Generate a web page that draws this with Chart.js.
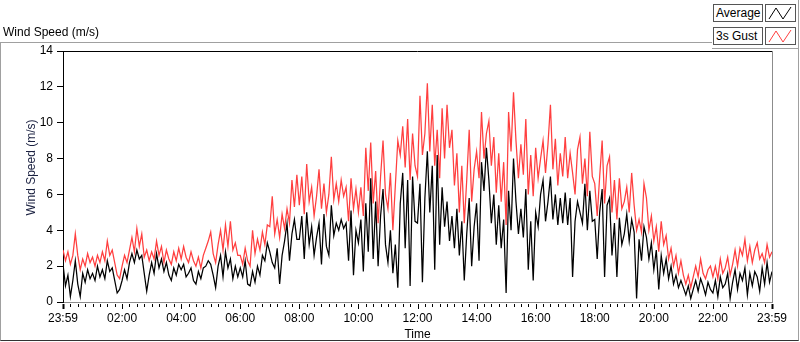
<!DOCTYPE html>
<html>
<head>
<meta charset="utf-8">
<script src="https://cdn.jsdelivr.net/npm/chart.js@4.4.0/dist/chart.umd.min.js"></script>
<style>
    html, body { margin: 0; padding: 0; background: #fff; }
    body { width: 800px; height: 342px; position: relative; overflow: hidden;
           font-family: "Liberation Sans", Arial, sans-serif; font-size: 12px; color: #000; }
    #gcWrap { position: absolute; left: 0; top: 0; width: 800px; height: 342px; }
    #frame { position: absolute; left: 0; top: 42px; width: 799px; height: 299px; box-sizing: border-box;
             border: 1px solid #a0a0a0; border-bottom-color: #333; pointer-events: none; }
    #plotTitle { position: absolute; left: 3px; top: 25px; line-height: 14px; white-space: nowrap; }
    #legendPanel { position: absolute; left: 712px; top: 0; width: 87px; height: 49px; box-sizing: border-box;
                   background: #fff; border-right: 1px solid #a0a0a0; border-bottom: 1px solid #a0a0a0; }
    .lgName { position: absolute; left: 1px; width: 50px; height: 18px; box-sizing: border-box;
              border: 1px solid #555; background: #fff; padding-left: 2px; line-height: 16px; white-space: nowrap; }
    .lgIcon { position: absolute; left: 53px; width: 31px; height: 18px; box-sizing: border-box;
              border: 1px solid #555; background: #fff; }
    .lgIcon svg { display: block; }
</style>
</head>
<body>
<div id="gcWrap"><canvas id="windChart" width="800" height="342"></canvas></div>
<div id="frame"></div>
<div id="plotTitle">Wind Speed (m/s)</div>
<div id="legendPanel">
    <div class="lgName" style="top:4px">Average</div>
    <div class="lgIcon" style="top:4px"><svg width="29" height="16"><polyline points="3,14 10,3 17,14 25,2" fill="none" stroke="#000" stroke-width="1"/></svg></div>
    <div class="lgName" style="top:27px">3s Gust</div>
    <div class="lgIcon" style="top:27px"><svg width="29" height="16"><polyline points="3,14 10,3 17,14 25,2" fill="none" stroke="#ff3f3f" stroke-width="1"/></svg></div>
</div>
<script>
// --- Data: one sample every 5 minutes, 23:59 -> 23:59 ---
const sampleStep = 5;
const avgSpeed = [
    2.1, 0.9, 1.5, 0.3, 1.2, 2.3, 1.0, 0.3, 1.6, 1.1, 1.8, 1.3,
    1.6, 1.2, 2.0, 1.4, 1.8, 1.3, 2.3, 1.7, 1.9, 1.2, 0.5, 0.7,
    1.2, 1.8, 1.3, 2.2, 2.7, 2.2, 2.9, 2.4, 2.6, 1.6, 0.6, 1.5,
    2.2, 1.6, 2.7, 1.9, 2.4, 1.7, 2.2, 1.5, 1.2, 1.9, 1.5, 2.1,
    1.8, 2.1, 1.4, 1.6, 1.9, 1.2, 1.0, 1.7, 1.3, 1.9, 2.0, 2.3,
    2.1, 1.5, 0.8, 2.0, 2.6, 1.4, 2.8, 1.9, 2.4, 1.3, 2.0, 1.4,
    1.9, 1.4, 2.3, 1.0, 0.9, 1.7, 1.1, 2.0, 1.5, 2.6, 2.3, 3.3,
    2.8, 2.2, 1.9, 3.0, 1.0, 2.6, 3.4, 4.4, 2.3, 3.8, 4.6, 3.5,
    3.5, 4.8, 2.4, 5.0, 3.2, 4.2, 2.6, 3.6, 4.4, 2.1, 4.9, 3.1,
    2.6, 5.4, 3.7, 4.4, 4.0, 4.6, 4.1, 4.4, 2.3, 5.1, 1.5, 4.0,
    3.3, 4.6, 1.7, 5.5, 2.8, 6.9, 2.4, 5.6, 2.0, 4.8, 6.3, 3.2,
    2.2, 4.0, 1.6, 3.2, 0.8, 5.5, 7.2, 3.0, 6.8, 0.9, 7.0, 4.5,
    4.4, 6.6, 1.1, 5.8, 8.4, 5.0, 7.6, 1.8, 8.2, 3.2, 6.4, 4.2,
    5.6, 3.4, 4.8, 3.0, 5.2, 2.6, 4.5, 1.2, 3.8, 5.8, 2.0, 4.2,
    5.5, 2.3, 7.8, 6.2, 8.6, 6.8, 4.4, 6.0, 3.2, 5.4, 3.0, 4.6,
    0.5, 6.2, 4.0, 8.0, 5.6, 3.8, 5.2, 3.6, 6.3, 1.8, 4.5, 1.2,
    5.0, 4.2, 6.0, 6.8, 4.5, 5.6, 7.0, 4.6, 6.0, 4.3, 5.8, 4.4,
    6.1, 4.3, 5.8, 1.4, 4.5, 5.6, 5.0, 4.4, 6.6, 4.0, 6.2, 4.5,
    4.6, 2.4, 5.0, 6.3, 1.4, 5.4, 5.8, 2.6, 4.4, 1.4, 4.7, 3.2,
    3.8, 4.9, 3.4, 4.6, 3.9, 0.2, 3.5, 2.3, 4.2, 3.6, 2.4, 3.3,
    1.8, 2.9, 0.7, 2.6, 1.6, 2.4, 1.3, 2.0, 1.0, 1.5, 0.8, 1.2,
    0.8, 0.4, 0.9, 0.2, 0.7, 1.2, 0.6, 1.3, 0.9, 0.4, 1.1, 0.7,
    0.5, 1.2, 0.3, 1.4, 0.8, 1.0, 1.6, 0.2, 1.1, 1.8, 0.7, 1.6,
    1.2, 1.9, 0.4, 1.6, 0.9, 1.7, 1.4, 0.6, 1.9, 1.0, 2.2, 1.1,
    1.7
];
const gustSpeed = [
    2.9, 2.3, 2.8, 2.1, 2.6, 3.8, 2.6, 1.8, 2.4, 2.0, 2.7, 2.2,
    2.5, 2.0, 2.6, 2.2, 2.8, 2.3, 3.4, 2.6, 2.9, 2.2, 1.5, 1.3,
    2.0, 2.6, 2.2, 2.9, 3.6, 2.8, 4.1, 3.1, 3.8, 2.5, 2.9, 2.3,
    2.8, 2.4, 3.4, 2.6, 3.1, 2.2, 2.9, 2.4, 2.1, 2.8, 2.3, 3.0,
    2.4, 3.1, 2.5, 2.2, 2.8, 2.3, 2.0, 2.5, 1.9, 2.6, 3.0, 3.4,
    3.9, 2.7, 2.2, 3.2, 4.0, 2.9, 4.3, 3.1, 4.5, 2.9, 3.3, 2.6,
    2.6, 2.1, 3.0, 2.3, 2.0, 4.0, 2.7, 3.5, 2.9, 3.9, 3.2, 4.3,
    4.2, 5.9, 3.8, 4.6, 3.6, 4.9, 4.1, 5.2, 4.4, 6.8, 5.3, 7.1,
    5.4, 7.0, 4.9, 7.7, 5.6, 6.4, 4.8, 5.9, 7.4, 5.2, 6.6, 5.0,
    6.0, 8.1, 5.7, 6.6, 5.6, 6.8, 5.9, 6.4, 4.5, 6.9, 5.2, 6.3,
    5.0, 6.4, 4.8, 8.6, 6.2, 8.9, 5.5, 7.3, 4.4, 7.0, 9.0, 6.0,
    5.2, 7.2, 4.0, 6.5, 9.0, 8.2, 9.8, 7.5, 10.2, 6.8, 9.4, 7.6,
    7.0, 11.5, 8.2, 9.4, 12.2, 8.4, 11.0, 7.6, 9.6, 6.9, 10.8, 8.0,
    11.0, 8.6, 9.6, 6.5, 8.3, 5.0, 7.6, 4.4, 6.8, 9.6, 5.6, 7.4,
    8.4, 6.9, 10.6, 8.0, 9.4, 10.1, 7.6, 9.2, 6.1, 8.3, 5.6, 7.8,
    4.3, 10.6, 8.4, 11.7, 9.0, 6.9, 8.8, 7.1, 10.2, 6.0, 8.2, 5.9,
    8.6, 6.9, 8.0, 9.0, 7.2, 8.8, 11.0, 7.4, 9.1, 6.5, 8.3, 7.0,
    9.2, 6.9, 8.3, 7.2, 6.0, 8.5, 9.2, 6.6, 8.0, 5.9, 9.5, 7.0,
    6.6, 4.8, 7.0, 9.0, 5.5, 7.6, 8.1, 5.0, 6.8, 4.6, 6.9, 5.2,
    5.6, 6.4, 5.0, 7.2, 5.4, 4.0, 4.6, 3.9, 6.6, 5.8, 4.0, 4.8,
    3.4, 4.2, 2.8, 4.5, 3.2, 3.7, 2.4, 3.0, 2.0, 2.6, 1.6, 2.3,
    1.5, 1.0, 1.5, 0.8, 1.4, 2.0, 1.4, 2.4, 1.6, 1.3, 1.8, 2.0,
    1.4, 2.0, 1.3, 2.4, 1.6, 1.9, 2.5, 1.5, 2.1, 2.9, 2.0, 3.0,
    2.6, 3.5, 2.3, 3.1, 2.2, 2.9, 3.3, 2.4, 2.7, 2.2, 3.2, 2.5,
    2.8
];
// x tick labels, every 120 minutes from the start
const timeLabels = ['23:59', '02:00', '04:00', '06:00', '08:00', '10:00', '12:00',
                    '14:00', '16:00', '18:00', '20:00', '22:00', '23:59'];
const majorStep = 120;
const minorStep = 15;
const yMax = 14;
const yStep = 2;

const FONT = '"Liberation Sans", Arial, sans-serif';

const toPoints = arr => arr.map((v, i) => ({ x: i * sampleStep, y: v }));

// --- frame, minor ticks and rotated axis name ---
const framePlugin = {
    id: 'labviewFrame',
    afterDraw(chart) {
        const { ctx, chartArea: a, scales: { x } } = chart;
        ctx.save();
        ctx.lineWidth = 1;
        // top edge dark, right edge light
        ctx.strokeStyle = '#000';
        ctx.beginPath(); ctx.moveTo(a.left, a.top + 0.5); ctx.lineTo(a.right, a.top + 0.5); ctx.stroke();
        ctx.strokeStyle = '#8c8c8c';
        ctx.beginPath(); ctx.moveTo(a.right + 0.5, a.top); ctx.lineTo(a.right + 0.5, a.bottom); ctx.stroke();
        // x ticks
        ctx.strokeStyle = '#000';
        for (let m = 0; m <= x.max; m += minorStep) {
            const px = Math.round(x.getPixelForValue(m)) + 0.5;
            const len = m % majorStep === 0 ? 5 : 3;
            ctx.lineWidth = (m === 0 || m === x.max) ? 2 : 1;
            ctx.beginPath(); ctx.moveTo(px, a.bottom + 2); ctx.lineTo(px, a.bottom + 2 + len); ctx.stroke();
        }
        // y axis name
        ctx.fillStyle = '#1a2040';
        ctx.font = '12px ' + FONT;
        ctx.textAlign = 'center';
        ctx.textBaseline = 'middle';
        ctx.translate(31.5, 167.5);
        ctx.rotate(-Math.PI / 2);
        ctx.fillText('Wind Speed (m/s)', 0, 0);
        ctx.restore();
    }
};

const ctx = document.getElementById('windChart').getContext('2d');
const windChart = new Chart(ctx, {
    type: 'line',
    data: {
        datasets: [
            { label: 'Average', data: toPoints(avgSpeed), borderColor: '#000', borderWidth: 1.25,
              pointRadius: 0, tension: 0, fill: false },
            { label: '3s Gust', data: toPoints(gustSpeed), borderColor: '#ff3f3f', borderWidth: 1.25,
              pointRadius: 0, tension: 0, fill: false }
        ]
    },
    options: {
        responsive: false,
        animation: false,
        layout: { padding: { top: 51, right: 28, left: 0, bottom: 0 } },
        plugins: { legend: { display: false }, tooltip: { enabled: false } },
        scales: {
            x: {
                type: 'linear', min: 0, max: (timeLabels.length - 1) * majorStep,
                afterBuildTicks: s => {
                    s.ticks = timeLabels.map((_, i) => ({ value: i * majorStep }));
                },
                afterFit: s => { s.height = 40; },
                ticks: {
                    autoSkip: false, maxRotation: 0, padding: 3, color: '#000',
                    font: { family: FONT, size: 12 },
                    callback: v => timeLabels[Math.round(v / majorStep)]
                },
                grid: { drawOnChartArea: false, tickLength: 6, color: 'rgba(0,0,0,0)' },
                border: { color: '#8c8c8c', width: 1 },
                title: { display: true, text: 'Time', color: '#000',
                         font: { family: FONT, size: 12 }, padding: { top: 0, bottom: 0 } }
            },
            y: {
                min: 0, max: yMax,
                afterFit: s => { s.width = 63; },
                ticks: { stepSize: yStep, padding: 4, color: '#000', font: { family: FONT, size: 12 } },
                grid: { drawOnChartArea: false, tickLength: 6, color: '#000' },
                border: { color: '#000', width: 1 }
            }
        }
    },
    plugins: [framePlugin]
});
</script>
</body>
</html>
